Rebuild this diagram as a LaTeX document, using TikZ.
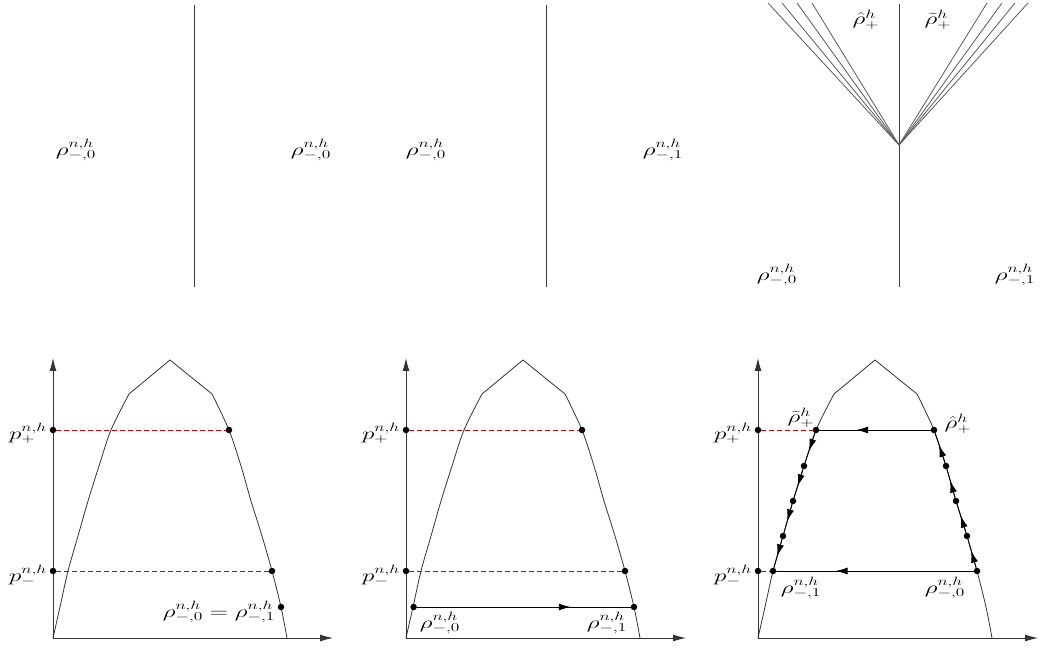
\documentclass[tikz,border=0pt]{standalone}
\usepackage{graphicx}
\usetikzlibrary{arrows.meta,decorations.markings}
\newcommand{\lb}[1]{\scalebox{1.45}[1]{$#1$}}
\tikzset{
  lbl/.style={inner sep=0pt,font=\LARGE},
  lin/.style={draw=black!75,line width=0.9pt},
  fanl/.style={draw=black!65,line width=0.8pt},
  axis/.style={draw=black!80,line width=0.9pt,-{Latex[length=13pt,width=7pt]}},
  crv/.style={draw=black!80,line width=0.8pt},
  reddash/.style={draw=red!80!black,dash pattern=on 5pt off 3pt,line width=1pt},
  dot/.style={circle,fill=black,inner sep=0pt,minimum size=6.5pt},
  midarrow/.style={postaction={decorate},decoration={markings,mark=at position #1 with {\arrow{Latex[length=12pt,width=7pt]}}}},
  path/.style={draw=black,line width=0.9pt}
}
\begin{document}
\begin{tikzpicture}[x=1pt,y=-1pt]
\useasboundingbox (0,0) rectangle (1042,652);
% ---------- top row ----------
\coordinate (t1a) at (194,5); \coordinate (t1b) at (194,287);
\draw[lin] (t1a) -- (t1b);
\node[lbl] (t1l) at (76,150) {\lb{\rho^{n,h}_{-,0}}};
\node[lbl] (t1r) at (311,150) {\lb{\rho^{n,h}_{-,0}}};
\coordinate (t2a) at (546,5); \coordinate (t2b) at (546,287);
\draw[lin] (t2a) -- (t2b);
\node[lbl] (t2l) at (426,150) {\lb{\rho^{n,h}_{-,0}}};
\node[lbl] (t2r) at (663,150) {\lb{\rho^{n,h}_{-,1}}};
\coordinate (fc) at (899,145);
\coordinate (t3a) at (899,4); \coordinate (t3b) at (899,287);
\draw[lin] (t3a) -- (t3b);
\foreach \xx [count=\i] in {768,782,797,812,987,1002,1015,1028}{
  \coordinate (f\i) at (\xx,3);
  \draw[fanl] (fc) -- (f\i);
}
\node[lbl] (t3h) at (866,20) {\lb{\hat\rho^{h}_{+}}};
\node[lbl] (t3t) at (938,20) {\lb{\tilde\rho^{h}_{+}}};
\node[lbl] (t3l) at (777,275) {\lb{\rho^{n,h}_{-,0}}};
\node[lbl] (t3r) at (1015,275) {\lb{\rho^{n,h}_{-,1}}};
% ---------- bottom panels ----------
\foreach \ox/\P in {53/A,406/B,758/C}{
\begin{scope}[shift={(\ox,0)}]
  \coordinate (\P o) at (0,638);
  \coordinate (\P x) at (280,638);
  \coordinate (\P y) at (0,358);
  \draw[axis] (\P o) -- (\P x);
  \draw[axis] (\P o) -- (\P y);
  \draw[crv] plot[smooth] coordinates {(0,638)(7,607)(15,571)(25,536)(35,501)(46,466)(58,430)(76,394)};
  \draw[crv] (76,394) -- (117,360) -- (159,394);
  \draw[crv] plot[smooth] coordinates {(159,394)(176,430)(188,466)(198,501)(209,536)(219,571)(228,607)(234,638)};
  \node[dot] (\P pp) at (0,430) {};
  \node[dot] (\P pm) at (0,571) {};
  \node[lbl] (\P lp) at (-25,433) {\lb{p^{n,h}_{+}}};
  \node[lbl] (\P lm) at (-25,575) {\lb{p^{n,h}_{-}}};
\end{scope}
}
% panel A
\begin{scope}[shift={(53,0)}]
  \node[dot] (Ar1) at (176,430) {};
  \node[dot] (Ar2) at (219,571) {};
  \node[dot] (Ar3) at (228,607) {};
  \draw[reddash] (App) -- (Ar1);
  \draw[reddash] (Apm) -- (Ar2);
  \node[lbl] (Aeq) at (166,612) {\lb{\rho^{n,h}_{-,0}=\rho^{n,h}_{-,1}}};
\end{scope}
% panel B
\begin{scope}[shift={(406,0)}]
  \node[dot] (Br1) at (176,430) {};
  \node[dot] (Br2) at (219,571) {};
  \node[dot] (Bl3) at (7.6,607) {};
  \node[dot] (Br3) at (228,607) {};
  \draw[reddash] (Bpp) -- (Br1);
  \draw[reddash] (Bpm) -- (Br2);
  \draw[path,midarrow=0.72] (Bl3) -- (Br3);
  \node[lbl] (Bl0) at (34,623) {\lb{\rho^{n,h}_{-,0}}};
  \node[lbl] (Bl1) at (201,623) {\lb{\rho^{n,h}_{-,1}}};
\end{scope}
% panel C
\begin{scope}[shift={(758,0)}]
  \node[dot] (Ct) at (58,430) {};
  \node[dot] (Cl1) at (46,466) {};
  \node[dot] (Cl2) at (35,501) {};
  \node[dot] (Cl3) at (25,536) {};
  \node[dot] (Cb) at (15,571) {};
  \node[dot] (Ch) at (176,430) {};
  \node[dot] (Cr1) at (188,466) {};
  \node[dot] (Cr2) at (198,501) {};
  \node[dot] (Cr3) at (209,536) {};
  \node[dot] (Cz) at (219,571) {};
  \draw[reddash] (Cpp) -- (Ct);
  \draw[reddash] (Cpm) -- (Cb);
  \draw[path,midarrow=0.67] (Ch) -- (Ct);
  \draw[path,midarrow=0.7] (Cz) -- (Cb);
  \draw[path,midarrow=0.6] (Ct) -- (Cl1);
  \draw[path,midarrow=0.6] (Cl1) -- (Cl2);
  \draw[path,midarrow=0.6] (Cl2) -- (Cl3);
  \draw[path,midarrow=0.6] (Cl3) -- (Cb);
  \draw[path,midarrow=0.6] (Cz) -- (Cr3);
  \draw[path,midarrow=0.6] (Cr3) -- (Cr2);
  \draw[path,midarrow=0.6] (Cr2) -- (Cr1);
  \draw[path,midarrow=0.6] (Cr1) -- (Ch);
  \node[lbl] (Ctl) at (43,418) {\lb{\tilde\rho^{h}_{+}}};
  \node[lbl] (Chl) at (200,424) {\lb{\hat\rho^{h}_{+}}};
  \node[lbl] (Cb1) at (43,588) {\lb{\rho^{n,h}_{-,1}}};
  \node[lbl] (Cb0) at (187,588) {\lb{\rho^{n,h}_{-,0}}};
\end{scope}
\end{tikzpicture}
\end{document}
